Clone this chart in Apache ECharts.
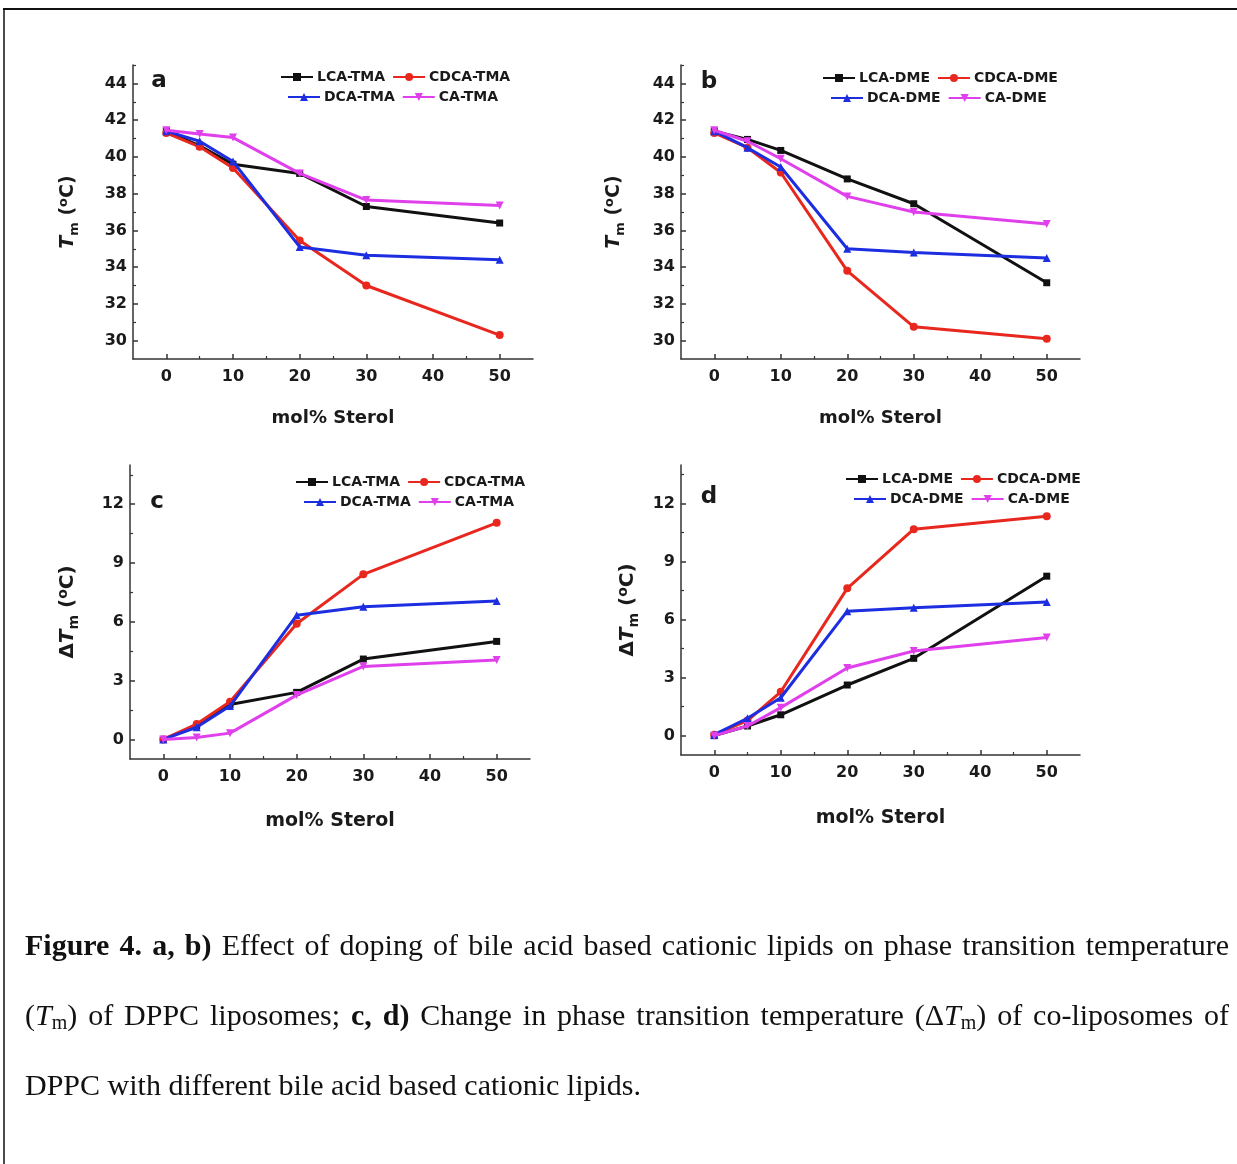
<!DOCTYPE html>
<html><head><meta charset="utf-8">
<script src="https://cdn.jsdelivr.net/npm/echarts@6/dist/echarts.min.js"></script>
<style>html,body{margin:0;padding:0;background:#fff}#c{width:1237px;height:1164px}</style>
</head><body><div id="c"></div>
<script>
// ---- data ----
const xs = [0, 5, 10, 20, 30, 50];
const tmaNames = ['LCA-TMA', 'CDCA-TMA', 'DCA-TMA', 'CA-TMA'];
const dmeNames = ['LCA-DME', 'CDCA-DME', 'DCA-DME', 'CA-DME'];
// panel a: Tm, TMA lipids
const aLCA  = [41.4, 40.6, 39.6, 39.1, 37.3, 36.4];
const aCDCA = [41.3, 40.55, 39.4, 35.45, 33.0, 30.3];
const aDCA  = [41.4, 40.85, 39.75, 35.1, 34.65, 34.4];
const aCA   = [41.45, 41.25, 41.05, 39.1, 37.65, 37.35];
// panel b: Tm, DME lipids
const bLCA  = [41.4, 40.95, 40.35, 38.8, 37.45, 33.15];
const bCDCA = [41.3, 40.5, 39.15, 33.8, 30.75, 30.1];
const bDCA  = [41.4, 40.5, 39.45, 35.0, 34.8, 34.5];
const bCA   = [41.45, 40.85, 39.9, 37.85, 37.0, 36.35];
// panel c: delta Tm, TMA lipids
const cLCA  = [0, 0.7, 1.78, 2.4, 4.1, 5.0];
const cCDCA = [0, 0.78, 1.92, 5.9, 8.42, 11.05];
const cDCA  = [0, 0.62, 1.7, 6.33, 6.77, 7.06];
const cCA   = [0, 0.1, 0.32, 2.26, 3.72, 4.05];
// panel d: delta Tm, DME lipids
const dLCA  = [0, 0.5, 1.08, 2.62, 4.0, 8.25];
const dCDCA = [0.05, 0.78, 2.27, 7.62, 10.68, 11.35];
const dDCA  = [0.05, 0.9, 1.96, 6.44, 6.62, 6.92];
const dCA   = [0, 0.5, 1.45, 3.5, 4.38, 5.08];
// tick values
const xTicks = [0, 10, 20, 30, 40, 50];
const xMinor = [5, 15, 25, 35, 45];
const tmTicks = [30, 32, 34, 36, 38, 40, 42, 44];
const tmMinor = [31, 33, 35, 37, 39, 41, 43, 45];
const dtTicks = [0, 3, 6, 9, 12];
const dtMinor = [1.5, 4.5, 7.5, 10.5, 13.5];

// ---- styles ----
const FONT = '"DejaVu Sans", sans-serif';
const TXT = '#1a1a1a';
const AX = '#333';
const colors = ['#111111', '#e8281e', '#1c2ee0', '#e040ec'];
const symbols = ['rect', 'circle', 'triangle', 'path://M0,0 L10,0 L5,9 Z'];
const symSizes = [7, 8, 8, 8];

const panels = [
  { grid: {left: 133, top: 65, width: 400, height: 294}, names: tmaNames, vals: [aLCA, aCDCA, aDCA, aCA],
    ymin: 29, ymax: 45, ticks: tmTicks, minor: tmMinor, yName: '{i|T}{s|m}{n| (}{p|o}{n|C)}', yGap: 52, xGap: 50, xSize: 18, ySize: 19,
    leg: [[280, 70], [287, 90]], letter: ['a', 159, 81] },
  { grid: {left: 681, top: 65, width: 399, height: 294}, names: dmeNames, vals: [bLCA, bCDCA, bDCA, bCA],
    ymin: 29, ymax: 45, ticks: tmTicks, minor: tmMinor, yName: '{i|T}{s|m}{n| (}{p|o}{n|C)}', yGap: 54, xGap: 50, xSize: 18, ySize: 19,
    leg: [[822, 71], [830, 91]], letter: ['b', 709, 82] },
  { grid: {left: 130, top: 465, width: 400, height: 294}, names: tmaNames, vals: [cLCA, cCDCA, cDCA, cCA],
    ymin: -1, ymax: 14, ticks: dtTicks, minor: dtMinor, yName: '{n|Δ}{i|T}{s|m}{n| (}{p|o}{n|C)}', yGap: 49, xGap: 53, xSize: 19, ySize: 20,
    leg: [[295, 475], [303, 495]], letter: ['c', 157, 502] },
  { grid: {left: 681, top: 465, width: 399, height: 290}, names: dmeNames, vals: [dLCA, dCDCA, dDCA, dCA],
    ymin: -1, ymax: 14, ticks: dtTicks, minor: dtMinor, yName: '{n|Δ}{i|T}{s|m}{n| (}{p|o}{n|C)}', yGap: 40, xGap: 54, xSize: 19, ySize: 20,
    leg: [[845, 472], [853, 492]], letter: ['d', 709, 497] }
];

const option = { animation: false, backgroundColor: '#fff', grid: [], xAxis: [], yAxis: [], series: [], legend: [], graphic: [] };

panels.forEach((p, g) => {
  option.grid.push(Object.assign({containLabel: false}, p.grid));
  const axLine = {show: true, onZero: false, lineStyle: {color: AX, width: 1.5}};
  option.xAxis.push({
    type: 'value', gridIndex: g, min: -5, max: 55, position: 'bottom',
    axisLine: axLine, splitLine: {show: false},
    axisTick: {show: true, inside: true, length: 5, customValues: xTicks, lineStyle: {color: AX, width: 1.5}},
    axisLabel: {customValues: xTicks, color: TXT, fontFamily: FONT, fontWeight: 'bold', fontSize: 16, margin: 10},
    name: 'mol% Sterol', nameLocation: 'middle', nameGap: p.xGap,
    nameTextStyle: {color: TXT, fontFamily: FONT, fontWeight: 'bold', fontSize: p.xSize}
  });
  option.xAxis.push({
    type: 'value', gridIndex: g, min: -5, max: 55, position: 'bottom',
    axisLine: {show: false, onZero: false}, splitLine: {show: false}, axisLabel: {show: false},
    axisTick: {show: true, inside: true, length: 3, customValues: xMinor, lineStyle: {color: AX, width: 1.2}}
  });
  option.yAxis.push({
    type: 'value', gridIndex: g, min: p.ymin, max: p.ymax, position: 'left',
    axisLine: axLine, splitLine: {show: false},
    axisTick: {show: true, inside: true, length: 5, customValues: p.ticks, lineStyle: {color: AX, width: 1.5}},
    axisLabel: {customValues: p.ticks, color: TXT, fontFamily: FONT, fontWeight: 'bold', fontSize: 16, margin: 6},
    name: p.yName, nameLocation: 'middle', nameGap: p.yGap,
    nameTextStyle: {
      color: TXT, fontFamily: FONT, fontWeight: 'bold', fontSize: p.ySize,
      rich: {
        i: {fontFamily: FONT, fontWeight: 'bold', fontStyle: 'italic', fontSize: p.ySize, color: TXT},
        s: {fontFamily: FONT, fontWeight: 'bold', fontSize: Math.round(p.ySize * 0.7), color: TXT, padding: [12, 0, 0, 0]},
        p: {fontFamily: FONT, fontWeight: 'bold', fontSize: Math.round(p.ySize * 0.7), color: TXT, padding: [0, 0, 10, 0]},
        n: {fontFamily: FONT, fontWeight: 'bold', fontSize: p.ySize, color: TXT}
      }
    }
  });
  option.yAxis.push({
    type: 'value', gridIndex: g, min: p.ymin, max: p.ymax, position: 'left',
    axisLine: {show: false, onZero: false}, splitLine: {show: false}, axisLabel: {show: false},
    axisTick: {show: true, inside: true, length: 3, customValues: p.minor, lineStyle: {color: AX, width: 1.2}}
  });
  p.names.forEach((nm, k) => {
    option.series.push({
      type: 'line', name: nm, xAxisIndex: 2 * g, yAxisIndex: 2 * g,
      data: xs.map((x, j) => [x, p.vals[k][j]]),
      symbol: symbols[k], symbolSize: symSizes[k],
      lineStyle: {color: colors[k], width: 3}, itemStyle: {color: colors[k]},
      z: 2 + k
    });
  });
  [[p.names[0], p.names[1]], [p.names[2], p.names[3]]].forEach((d, r) => {
    option.legend.push({
      data: d, left: p.leg[r][0], top: p.leg[r][1], orient: 'horizontal',
      itemWidth: 32, itemHeight: 10, itemGap: 7, padding: 0, selectedMode: false,
      textStyle: {color: TXT, fontFamily: FONT, fontWeight: 'bold', fontSize: 14, padding: [0, 0, 0, -1]}
    });
  });
  option.graphic.push({
    type: 'text', x: p.letter[1], y: p.letter[2],
    style: {text: p.letter[0], fill: TXT, fontFamily: FONT, fontWeight: 'bold', fontSize: 23, align: 'center', verticalAlign: 'middle'}
  });
});

// frame
option.graphic.push({type: 'line', shape: {x1: 3, y1: 9, x2: 1237, y2: 9}, style: {stroke: '#111', lineWidth: 2}});
option.graphic.push({type: 'line', shape: {x1: 4, y1: 9, x2: 4, y2: 1164}, style: {stroke: '#111', lineWidth: 1.5}});

// caption (text layout, justified)
const CF = '"Liberation Serif", "Times New Roman", serif';
const CS = 30, SS = 20;
const W = (w) => w.split(' ').map(t => [['n', t]]);
const capLines = [
  {y: 947, justify: true, words: [[['b', 'Figure']], [['b', '4.']], [['b', 'a,']], [['b', 'b)']]].concat(W('Effect of doping of bile acid based cationic lipids on phase transition temperature'))},
  {y: 1017, justify: true, words: [[['n', '('], ['i', 'T'], ['s', 'm'], ['n', ')']]].concat(W('of DPPC liposomes;'), [[['b', 'c,']], [['b', 'd)']]], W('Change in phase transition temperature'), [[['n', '(Δ'], ['i', 'T'], ['s', 'm'], ['n', ')']]], W('of co-liposomes of'))},
  {y: 1087, justify: false, words: W('DPPC with different bile acid based cationic lipids.')}
];
const ctx = document.createElement('canvas').getContext('2d');
function runFont(st) {
  if (st === 'b') return {fontWeight: 'bold', fontStyle: 'normal', fontSize: CS};
  if (st === 'i') return {fontWeight: 'normal', fontStyle: 'italic', fontSize: CS};
  if (st === 's') return {fontWeight: 'normal', fontStyle: 'normal', fontSize: SS};
  return {fontWeight: 'normal', fontStyle: 'normal', fontSize: CS};
}
function measure(st, t) {
  const f = runFont(st);
  ctx.font = f.fontStyle + ' ' + f.fontWeight + ' ' + f.fontSize + 'px ' + CF;
  return ctx.measureText(t).width;
}
const X0 = 25, X1 = 1229;
capLines.forEach(line => {
  const widths = line.words.map(w => w.reduce((s, r) => s + measure(r[0], r[1]), 0));
  const total = widths.reduce((a, b) => a + b, 0);
  const gap = line.justify ? (X1 - X0 - total) / (line.words.length - 1) : measure('n', ' ');
  let x = X0;
  line.words.forEach((w, i) => {
    let rx = x;
    w.forEach(r => {
      const f = runFont(r[0]);
      option.graphic.push({
        type: 'text', x: rx, y: line.y + (r[0] === 's' ? 7 : 0),
        style: {text: r[1], fill: '#111', fontFamily: CF, fontWeight: f.fontWeight, fontStyle: f.fontStyle, fontSize: f.fontSize, align: 'left', verticalAlign: 'middle'}
      });
      rx += measure(r[0], r[1]);
    });
    x += widths[i] + gap;
  });
});

const chart = echarts.init(document.getElementById('c'), null, {renderer: 'canvas'});
chart.setOption(option);
</script>
</body></html>
